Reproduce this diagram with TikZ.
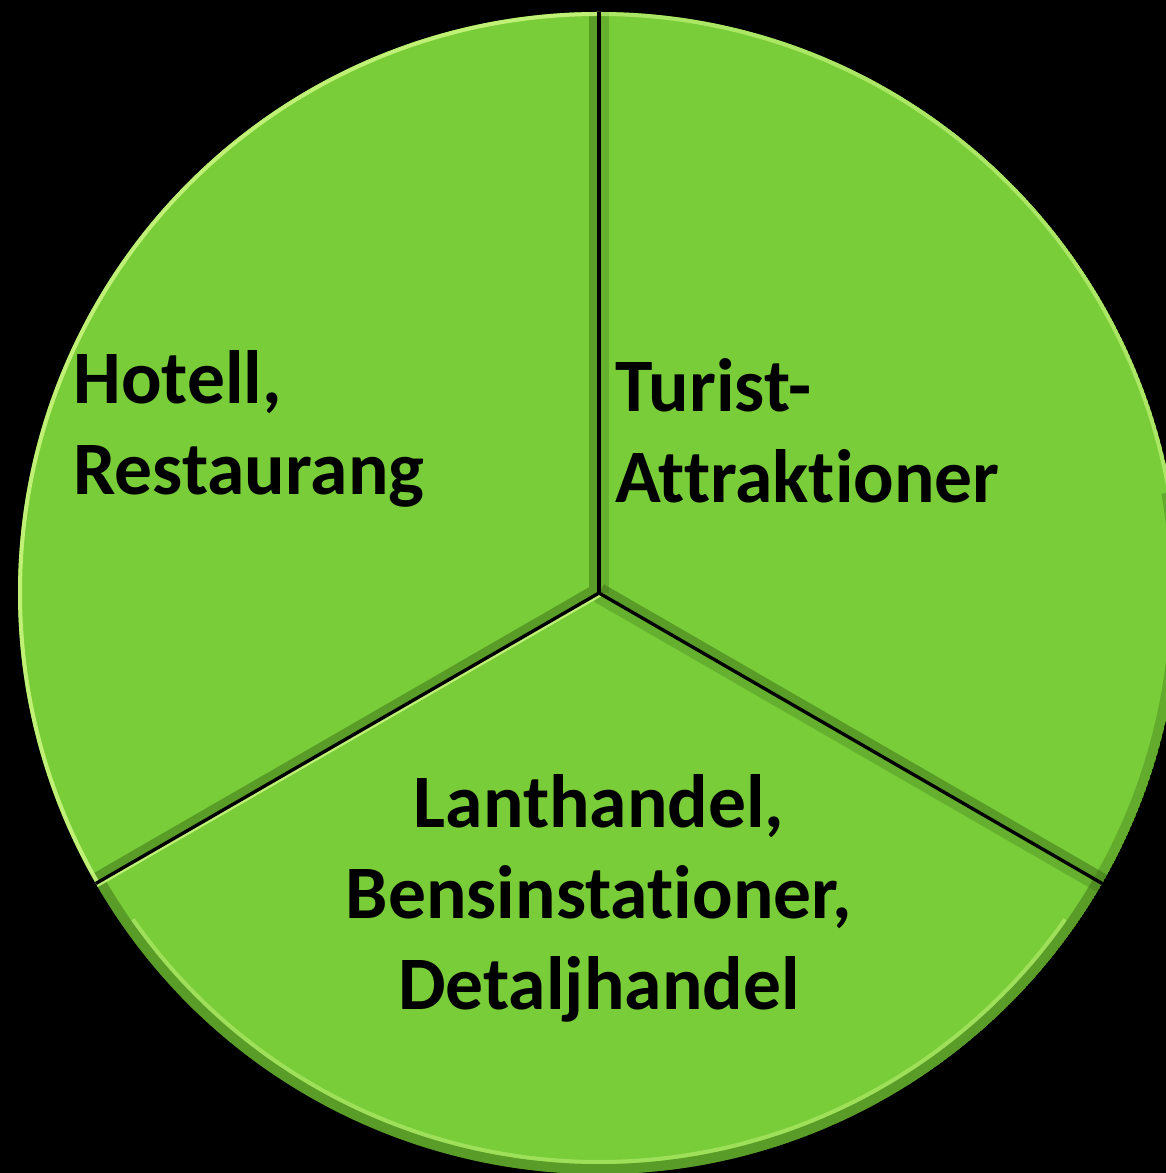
\documentclass[tikz,border=0pt]{standalone}
\usepackage{fontspec}
\setmainfont{Carlito}[RawFeature={-liga;-clig}]
\usetikzlibrary{positioning}
\definecolor{piegreen}{RGB}{120,205,56}
\definecolor{pielight}{RGB}{205,248,130}
\definecolor{piedark}{RGB}{60,110,25}
\newcommand{\pieR}{11.62}

\begin{document}
\begin{tikzpicture}[
    divider/.style={black, line width=1.9pt},
    pietext/.style={font=\fontsize{43}{52}\selectfont\bfseries, inner sep=0pt, text=black},
    edgeshade/.style={piedark, line width=0.4cm, opacity=0.5},
    edgegloss/.style={pielight, line width=0.16cm, opacity=0.85}
]
    \fill[black] (0,0) rectangle (23.32,23.46);
    \useasboundingbox (0,0) rectangle (23.32,23.46);

    \coordinate (centre) at (11.98,11.60);
    \coordinate (rimtop) at ([shift={(90:\pieR)}]centre);
    \coordinate (rimleft) at ([shift={(210:\pieR)}]centre);
    \coordinate (rimright) at ([shift={(330:\pieR)}]centre);

    % left sector
    \begin{scope}
        \clip (centre) -- (rimtop) arc[start angle=90, end angle=210, radius=\pieR] -- cycle;
        \fill[piegreen] (centre) -- (rimtop) arc[start angle=90, end angle=210, radius=\pieR] -- cycle;
        \draw[edgeshade] (rimleft) -- (centre) -- (rimtop);
        \draw[edgegloss] (rimtop) arc[start angle=90, end angle=210, radius=\pieR];
    \end{scope}

    % right sector
    \begin{scope}
        \clip (centre) -- (rimtop) arc[start angle=90, end angle=-30, radius=\pieR] -- cycle;
        \fill[piegreen] (centre) -- (rimtop) arc[start angle=90, end angle=-30, radius=\pieR] -- cycle;
        \draw[edgeshade] (rimright) -- (centre);
        \draw[edgeshade, opacity=0.3] (centre) -- (rimtop);
        \draw[edgegloss, opacity=0.6] (rimtop) arc[start angle=90, end angle=10, radius=\pieR];
        \draw[edgeshade, opacity=0.35] ([shift={(10:\pieR)}]centre) arc[start angle=10, end angle=-30, radius=\pieR];
    \end{scope}

    % bottom sector
    \begin{scope}
        \clip (centre) -- (rimleft) arc[start angle=210, end angle=330, radius=\pieR] -- cycle;
        \fill[piegreen] (centre) -- (rimleft) arc[start angle=210, end angle=330, radius=\pieR] -- cycle;
        \draw[edgeshade] (rimleft) arc[start angle=210, end angle=330, radius=\pieR];
        \draw[edgeshade, opacity=0.3] (centre) -- (rimright);
        \draw[edgegloss] (centre) -- (rimleft);
        \draw[edgegloss, line width=0.08cm, opacity=0.45] ([shift={(215:\pieR-0.24)}]centre) arc[start angle=215, end angle=325, radius=\pieR-0.24];
    \end{scope}

    \draw[divider] (centre) -- (rimtop);
    \draw[divider] (centre) -- (rimleft);
    \draw[divider] (centre) -- (rimright);

    \node[pietext, anchor=base west, align=left] (hotel) at (1.46,13.56) {Hotell,\\Restaurang};
    \node[pietext, anchor=base west, align=left] (tourism) at (12.30,13.40) {Turist-\\Attraktioner};
    \node[pietext, anchor=base, align=center] (retail) at (11.98,3.26) {Lanthandel,\\Bensinstationer,\\Detaljhandel};
\end{tikzpicture}
\end{document}
